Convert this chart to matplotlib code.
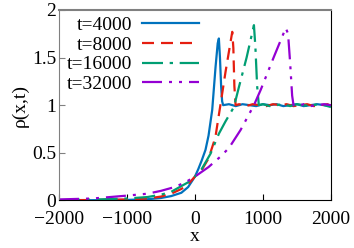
import matplotlib
matplotlib.use('Agg')
import matplotlib.pyplot as plt

plt.rcParams['font.family'] = ['Liberation Serif', 'DejaVu Serif']
plt.rcParams['font.size'] = 14

# t=4000
x_4000 = [-2000, -1500, -1000, -700, -500, -350, -200, -100, 0, 50, 100, 155, 200, 254, 303, 335, 352,
          368, 385, 400, 415, 500, 600, 700, 800, 900, 1000, 1100, 1200, 1300, 1400, 1500, 1600, 1700,
          1800, 1900, 2000]
rho_4000 = [0.0, 0.002, 0.005, 0.012, 0.025, 0.045, 0.08, 0.14, 0.25, 0.33, 0.42, 0.53, 0.68, 0.95, 1.4,
            1.65, 1.70, 1.5, 1.2, 1.04, 1.0, 1.01, 0.99, 1.01, 1.0, 0.99, 1.01, 1.0, 1.01, 0.99, 1.0,
            1.01, 0.99, 1.0, 1.01, 1.0, 0.99]

# t=8000
x_8000 = [-2000, -1500, -1000, -700, -500, -350, -200, -100, 0, 100, 200, 300, 370, 450, 549, 565, 580,
          598, 650, 750, 850, 950, 1050, 1150, 1250, 1350, 1450, 1550, 1650, 1750, 1850, 1950, 2000]
rho_8000 = [0.002, 0.004, 0.01, 0.02, 0.04, 0.07, 0.12, 0.17, 0.25, 0.32, 0.44, 0.66, 0.98, 1.35, 1.77,
            1.6, 1.2, 1.0, 1.01, 0.99, 1.01, 1.0, 0.99, 1.01, 1.0, 1.01, 0.99, 1.0, 1.01, 0.99, 1.0,
            1.01, 0.99]

# t=16000
x_16000 = [-2000, -1500, -1000, -700, -500, -350, -200, -100, 0, 100, 229, 352, 450, 573, 647, 760,
           868, 890, 915, 940, 1000, 1100, 1200, 1300, 1400, 1500, 1600, 1700, 1800, 1900, 2000]
rho_16000 = [0.003, 0.008, 0.02, 0.035, 0.06, 0.09, 0.15, 0.19, 0.25, 0.33, 0.49, 0.70, 0.83, 0.98,
             1.19, 1.5, 1.84, 1.6, 1.2, 1.0, 1.01, 0.99, 1.0, 1.01, 0.99, 1.01, 1.0, 0.99, 1.01, 1.0, 0.98]

# t=32000
x_32000 = [-2000, -1500, -1000, -700, -500, -300, -140, 0, 100, 200, 376, 500, 672, 868, 967, 1163,
           1336, 1370, 1400, 1430, 1450, 1500, 1600, 1700, 1800, 1900, 2000]
rho_32000 = [0.01, 0.02, 0.05, 0.07, 0.1, 0.14, 0.19, 0.25, 0.30, 0.35, 0.46, 0.55, 0.74, 1.0, 1.16,
             1.51, 1.81, 1.75, 1.45, 1.1, 1.0, 0.99, 1.01, 0.99, 1.0, 1.01, 1.0]

xticks = [-2000, -1000, 0, 1000, 2000]
yticks = [0, 0.5, 1, 1.5, 2]
ytick_labels = ['0', '0.5', '1', '1.5', '2']

fig = plt.figure(figsize=(3.54, 2.48), dpi=100)
ax = fig.add_axes([0.1667, 0.192, 0.768, 0.768])

lw = 1.6
ax.plot(x_4000, rho_4000, color='#0072bd', lw=lw, label='t=4000')
ax.plot(x_8000, rho_8000, color='#e51e10', lw=lw, ls=(0, (5.4, 3.15)), label='t=8000')
ax.plot(x_16000, rho_16000, color='#009e73', lw=lw, ls=(0, (9.45, 3.0, 1.5, 3.0)), label='t=16000')
ax.plot(x_32000, rho_32000, color='#9400d3', lw=lw,
        ls=(0, (9, 3.15, 1.35, 3.15, 1.35, 3.15)), label='t=32000')

ax.set_xlim(-2000, 2000)
ax.set_ylim(0, 2)
ax.set_xticks(xticks)
ax.set_yticks(yticks)
ax.set_yticklabels(ytick_labels)
ax.tick_params(direction='in', length=4)
ax.tick_params(axis='x', pad=7.5)
ax.tick_params(axis='y', pad=2, colors='#808080', labelcolor='black')
ax.set_xlabel('x', labelpad=0)
ax.set_ylabel('ρ(x,t)', labelpad=2)

ax.spines['top'].set_color('#808080')
ax.spines['top'].set_linewidth(1.5)
ax.spines['left'].set_color('#808080')

ax.legend(loc='upper left', bbox_to_anchor=(0.03, 0.965), frameon=False, markerfirst=False,
          handlelength=2.9, handletextpad=0.5, labelspacing=0.1, borderpad=0, borderaxespad=0)

fig.savefig('out.png', dpi=100)
